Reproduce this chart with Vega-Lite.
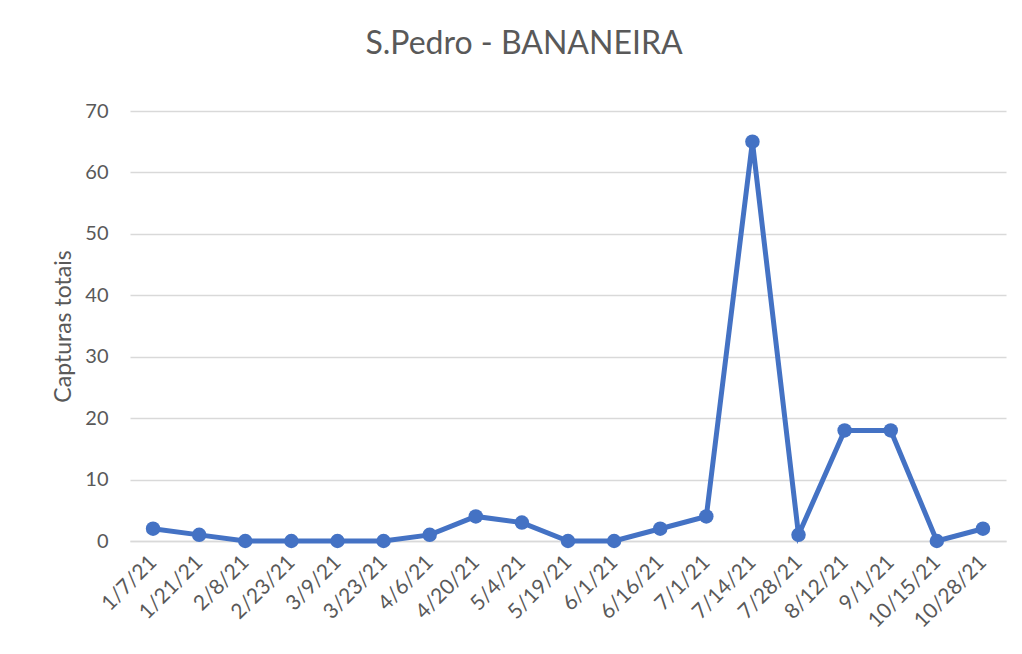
{
  "$schema": "https://vega.github.io/schema/vega-lite/v6.json",
  "width": 876,
  "height": 430,
  "autosize": {"type": "none"},
  "padding": {"left": 130, "top": 111, "right": 16, "bottom": 113},
  "background": "white",
  "title": {
    "text": "S.Pedro - BANANEIRA",
    "fontSize": 32,
    "font": "Lato",
    "fontWeight": "normal",
    "color": "#595959",
    "anchor": "middle",
    "frame": "group",
    "dx": -44,
    "offset": 40
  },
  "data": {
    "values": [
      {"date": "1/7/21", "capturas": 2},
      {"date": "1/21/21", "capturas": 1},
      {"date": "2/8/21", "capturas": 0},
      {"date": "2/23/21", "capturas": 0},
      {"date": "3/9/21", "capturas": 0},
      {"date": "3/23/21", "capturas": 0},
      {"date": "4/6/21", "capturas": 1},
      {"date": "4/20/21", "capturas": 4},
      {"date": "5/4/21", "capturas": 3},
      {"date": "5/19/21", "capturas": 0},
      {"date": "6/1/21", "capturas": 0},
      {"date": "6/16/21", "capturas": 2},
      {"date": "7/1/21", "capturas": 4},
      {"date": "7/14/21", "capturas": 65},
      {"date": "7/28/21", "capturas": 1},
      {"date": "8/12/21", "capturas": 18},
      {"date": "9/1/21", "capturas": 18},
      {"date": "10/15/21", "capturas": 0},
      {"date": "10/28/21", "capturas": 2}
    ]
  },
  "mark": {"type": "line", "color": "#4472C4", "strokeWidth": 5, "point": {"filled": true, "size": 210, "color": "#4472C4", "opacity": 1}},
  "encoding": {
    "x": {
      "field": "date",
      "type": "ordinal",
      "sort": null,
      "scale": {"type": "point", "padding": 0.5},
      "axis": {
        "title": null,
        "labelAngle": -45,
        "labelAlign": "right",
        "labelBaseline": "middle",
        "labelFontSize": 21,
        "labelFont": "Lato",
        "labelColor": "#595959",
        "labelPadding": 18,
        "ticks": false,
        "domain": true,
        "domainColor": "#D9D9D9",
        "domainWidth": 1.3,
        "grid": false
      }
    },
    "y": {
      "field": "capturas",
      "type": "quantitative",
      "scale": {"domain": [0, 70], "nice": false},
      "axis": {
        "values": [0, 10, 20, 30, 40, 50, 60, 70],
        "title": "Capturas totais",
        "titleFont": "Lato",
        "titleFontSize": 23,
        "titleFontWeight": "normal",
        "titleColor": "#595959",
        "titlePadding": 9,
        "labelFontSize": 20,
        "labelFont": "Lato",
        "labelColor": "#595959",
        "labelPadding": 22,
        "ticks": false,
        "domain": false,
        "grid": true,
        "gridColor": "#D9D9D9",
        "gridWidth": 1.3
      }
    }
  },
  "config": {"view": {"stroke": null}}
}
